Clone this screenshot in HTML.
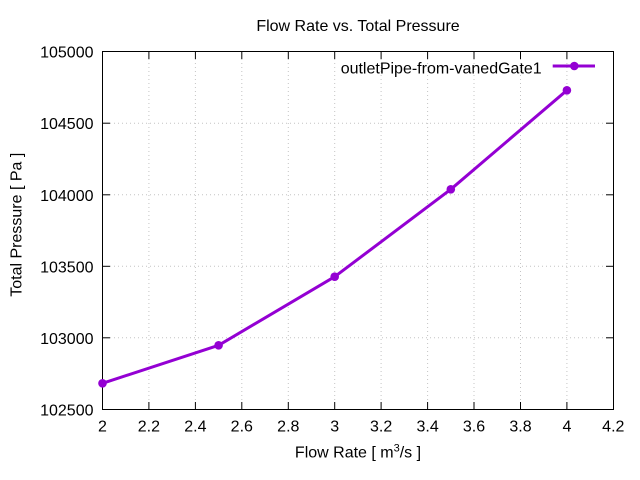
<!DOCTYPE html>
<html><head><meta charset="utf-8"><style>
html,body{margin:0;padding:0;background:#fff;}
svg{display:block;}
text{font-family:"Liberation Sans",Arial,sans-serif;font-size:16px;fill:#000;}
</style></head><body>
<svg width="640" height="480" viewBox="0 0 640 480" xmlns="http://www.w3.org/2000/svg">
<rect width="640" height="480" fill="#fff"/>
<!-- grid -->
<g stroke="#c4c4c4" stroke-width="1" stroke-dasharray="1,3" fill="none">
<line x1="110" y1="337.8" x2="606" y2="337.8"/>
<line x1="110" y1="266.3" x2="606" y2="266.3"/>
<line x1="110" y1="194.8" x2="606" y2="194.8"/>
<line x1="110" y1="123.2" x2="606" y2="123.2"/>
<line x1="148.9" y1="59" x2="148.9" y2="402"/>
<line x1="195.4" y1="59" x2="195.4" y2="402"/>
<line x1="241.8" y1="59" x2="241.8" y2="402"/>
<line x1="288.3" y1="59" x2="288.3" y2="402"/>
<line x1="334.7" y1="59" x2="334.7" y2="402"/>
<line x1="381.1" y1="59" x2="381.1" y2="402"/>
<line x1="427.6" y1="59" x2="427.6" y2="402"/>
<line x1="474.0" y1="59" x2="474.0" y2="402"/>
<line x1="520.5" y1="59" x2="520.5" y2="402"/>
<line x1="566.9" y1="59" x2="566.9" y2="402"/>
</g>
<!-- border -->
<rect x="102.5" y="51.5" width="511" height="358" fill="none" stroke="#000" stroke-width="1"/>
<!-- ticks -->
<g stroke="#000" stroke-width="1">
<line x1="102.5" y1="337.8" x2="110" y2="337.8"/><line x1="613.5" y1="337.8" x2="606" y2="337.8"/>
<line x1="102.5" y1="266.3" x2="110" y2="266.3"/><line x1="613.5" y1="266.3" x2="606" y2="266.3"/>
<line x1="102.5" y1="194.8" x2="110" y2="194.8"/><line x1="613.5" y1="194.8" x2="606" y2="194.8"/>
<line x1="102.5" y1="123.2" x2="110" y2="123.2"/><line x1="613.5" y1="123.2" x2="606" y2="123.2"/>
<line x1="148.9" y1="409.5" x2="148.9" y2="402"/><line x1="148.9" y1="51.5" x2="148.9" y2="59"/>
<line x1="195.4" y1="409.5" x2="195.4" y2="402"/><line x1="195.4" y1="51.5" x2="195.4" y2="59"/>
<line x1="241.8" y1="409.5" x2="241.8" y2="402"/><line x1="241.8" y1="51.5" x2="241.8" y2="59"/>
<line x1="288.3" y1="409.5" x2="288.3" y2="402"/><line x1="288.3" y1="51.5" x2="288.3" y2="59"/>
<line x1="334.7" y1="409.5" x2="334.7" y2="402"/><line x1="334.7" y1="51.5" x2="334.7" y2="59"/>
<line x1="381.1" y1="409.5" x2="381.1" y2="402"/><line x1="381.1" y1="51.5" x2="381.1" y2="59"/>
<line x1="427.6" y1="409.5" x2="427.6" y2="402"/><line x1="427.6" y1="51.5" x2="427.6" y2="59"/>
<line x1="474.0" y1="409.5" x2="474.0" y2="402"/><line x1="474.0" y1="51.5" x2="474.0" y2="59"/>
<line x1="520.5" y1="409.5" x2="520.5" y2="402"/><line x1="520.5" y1="51.5" x2="520.5" y2="59"/>
<line x1="566.9" y1="409.5" x2="566.9" y2="402"/><line x1="566.9" y1="51.5" x2="566.9" y2="59"/>
</g>
<!-- y tick labels -->
<g text-anchor="end">
<text x="93.5" y="415.3">102500</text>
<text x="93.5" y="343.8">103000</text>
<text x="93.5" y="272.3">103500</text>
<text x="93.5" y="200.8">104000</text>
<text x="93.5" y="129.2">104500</text>
<text x="93.5" y="57.7">105000</text>
</g>
<!-- x tick labels -->
<g text-anchor="middle">
<text x="102.5" y="431.3">2</text>
<text x="148.9" y="431.3">2.2</text>
<text x="195.4" y="431.3">2.4</text>
<text x="241.8" y="431.3">2.6</text>
<text x="288.3" y="431.3">2.8</text>
<text x="334.7" y="431.3">3</text>
<text x="381.1" y="431.3">3.2</text>
<text x="427.6" y="431.3">3.4</text>
<text x="474.0" y="431.3">3.6</text>
<text x="520.5" y="431.3">3.8</text>
<text x="566.9" y="431.3">4</text>
<text x="613.3" y="431.3">4.2</text>
</g>
<!-- title and labels -->
<text x="358" y="31" text-anchor="middle">Flow Rate vs. Total Pressure</text>
<text x="358" y="457.5" text-anchor="middle">Flow Rate [ m<tspan font-size="11" dy="-6">3</tspan><tspan dy="6">/s ]</tspan></text>
<text transform="translate(21.3,224.7) rotate(-90)" text-anchor="middle" font-size="14.7">Total Pressure [ Pa ]</text>
<!-- legend -->
<text x="541.7" y="73.3" text-anchor="end" font-size="15.7">outletPipe-from-vanedGate1</text>
<line x1="552.7" y1="66" x2="595" y2="66" stroke="#9400d3" stroke-width="3"/>
<circle cx="574.3" cy="66" r="4.3" fill="#9400d3"/>
<!-- series -->
<polyline points="102.5,383.3 218.6,345.3 334.7,276.7 450.8,189.3 566.9,90.3" fill="none" stroke="#9400d3" stroke-width="3" stroke-linejoin="round"/>
<g fill="#9400d3">
<circle cx="102.5" cy="383.3" r="4.3"/>
<circle cx="218.6" cy="345.3" r="4.3"/>
<circle cx="334.7" cy="276.7" r="4.3"/>
<circle cx="450.8" cy="189.3" r="4.3"/>
<circle cx="566.9" cy="90.3" r="4.3"/>
</g>
</svg>
</body></html>
